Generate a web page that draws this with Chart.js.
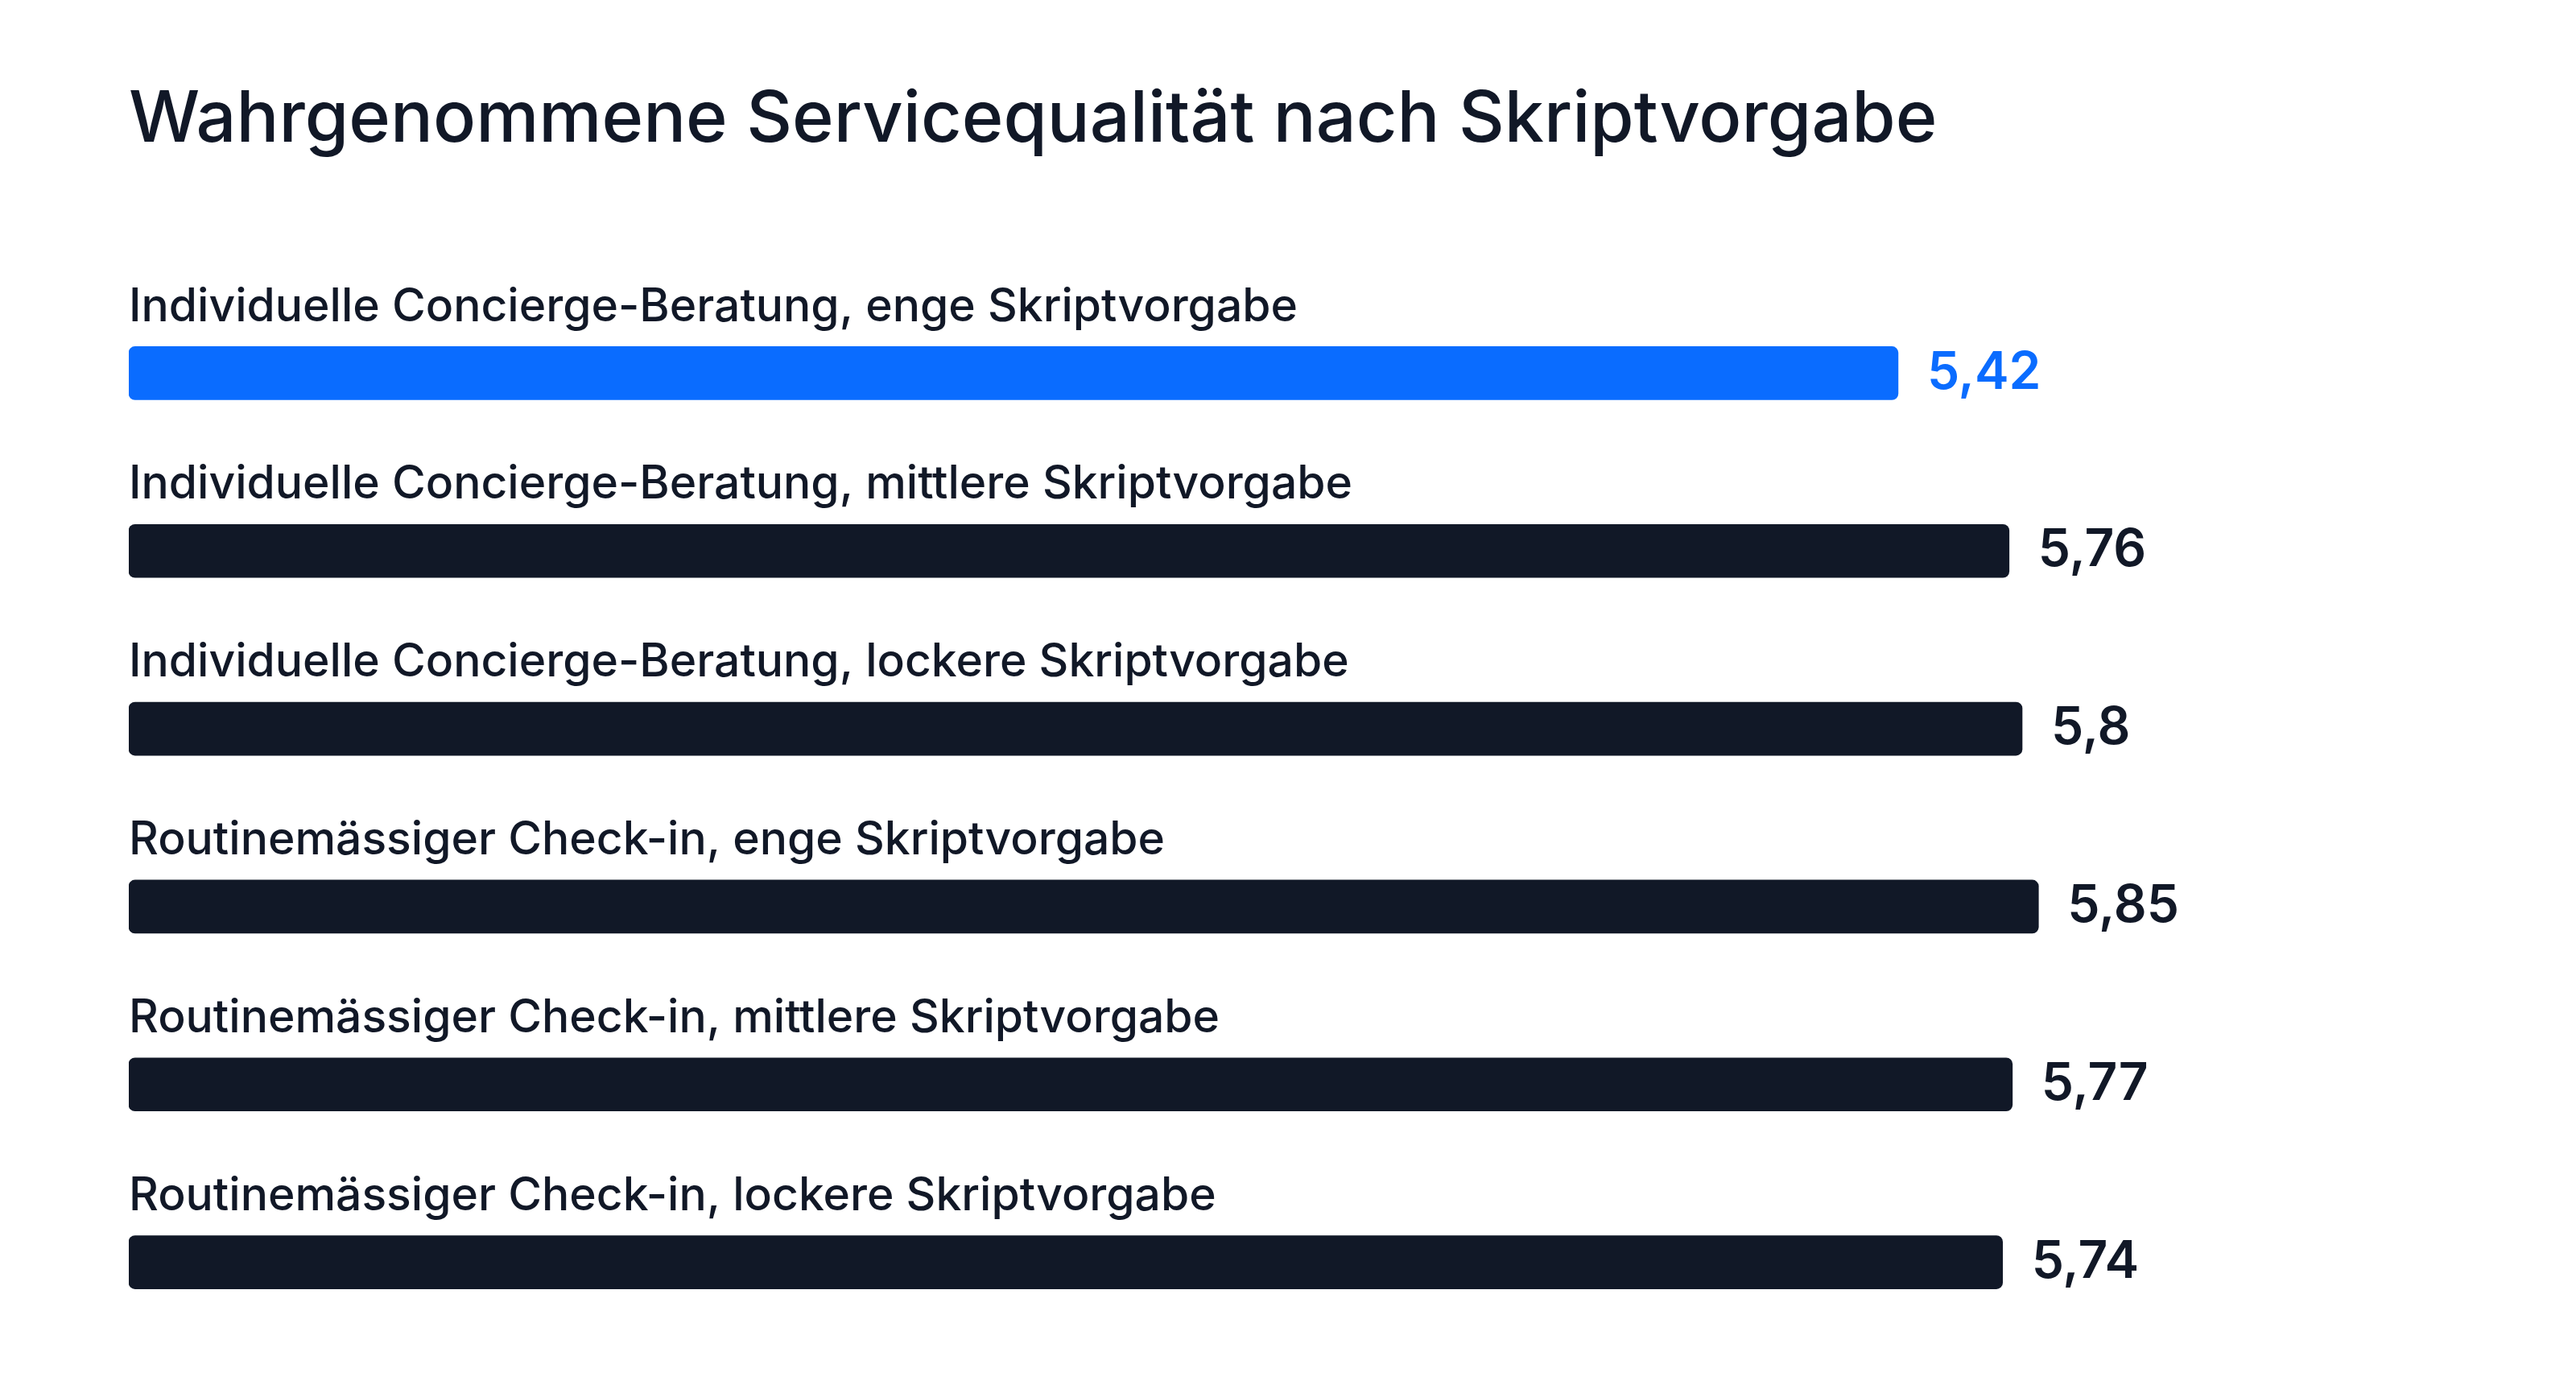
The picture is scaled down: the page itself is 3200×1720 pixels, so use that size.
<!DOCTYPE html>
<html>
<head>
<meta charset="utf-8">
<script src="https://cdn.jsdelivr.net/npm/chart.js@4/dist/chart.umd.min.js"></script>
<style>
  html, body { margin: 0; padding: 0; background: #fff; }
  #wrap { width: 3200px; height: 1720px; position: relative; }
</style>
</head>
<body>
<div id="wrap"><canvas id="chart"></canvas></div>
<script>
// Daten
const titel = 'Wahrgenommene Servicequalität nach Skriptvorgabe';
const kategorien = [
  'Individuelle Concierge-Beratung, enge Skriptvorgabe',
  'Individuelle Concierge-Beratung, mittlere Skriptvorgabe',
  'Individuelle Concierge-Beratung, lockere Skriptvorgabe',
  'Routinemässiger Check-in, enge Skriptvorgabe',
  'Routinemässiger Check-in, mittlere Skriptvorgabe',
  'Routinemässiger Check-in, lockere Skriptvorgabe'
];
const werte = [5.42, 5.76, 5.8, 5.85, 5.77, 5.74];
const hervorgehoben = 0;

const blau = '#0a6cff';
const dunkel = '#111827';
const farben = werte.map((_, i) => i === hervorgehoben ? blau : dunkel);

const fmt = v => String(v).replace('.', ',');

// Titel, Kategorien über den Balken, Werte rechts daneben
const beschriftung = {
  id: 'beschriftung',
  afterDatasetsDraw(chart) {
    const ctx = chart.ctx;
    const meta = chart.getDatasetMeta(0);
    const links = chart.chartArea.left;
    ctx.save();
    ctx.fillStyle = dunkel;
    ctx.font = '500 88px Inter';
    ctx.textBaseline = 'middle';
    ctx.textAlign = 'left';
    ctx.fillText(titel, links, 150);
    meta.data.forEach((bar, i) => {
      ctx.fillStyle = dunkel;
      ctx.font = '500 57px Inter';
      ctx.textBaseline = 'middle';
      ctx.fillText(kategorien[i], links, bar.y - 82);
      ctx.fillStyle = farben[i];
      ctx.font = '600 64px Inter';
      ctx.fillText(fmt(werte[i]), bar.x + 36, bar.y);
    });
    ctx.restore();
  }
};

new Chart(document.getElementById('chart'), {
  type: 'bar',
  data: {
    labels: kategorien,
    datasets: [{
      data: werte,
      backgroundColor: farben,
      borderRadius: 8,
      borderSkipped: false,
      barThickness: 66
    }]
  },
  options: {
    indexAxis: 'y',
    responsive: true,
    maintainAspectRatio: false,
    animation: false,
    layout: { padding: { left: 160, right: 100, top: 353, bottom: 42 } },
    plugins: { legend: { display: false }, tooltip: { enabled: false }, title: { display: false } },
    scales: {
      x: { min: 0, max: 7.25, display: false },
      y: { display: false }
    }
  },
  plugins: [beschriftung]
});
</script>
</body>
</html>
